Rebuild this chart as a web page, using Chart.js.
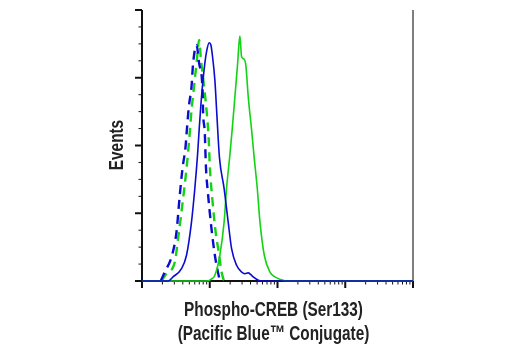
<!DOCTYPE html>
<html>
<head>
<meta charset="utf-8">
<script src="https://cdn.jsdelivr.net/npm/chart.js@4"></script>
<style>
  html, body { margin: 0; padding: 0; background: #fff; }
  #wrap { width: 520px; height: 350px; position: relative; }
</style>
</head>
<body>
<div id="wrap"><canvas id="histogram"></canvas></div>
<script>
// fluorescence intensity (log axis, 1 - 10^4) and event counts per histogram
const blueSolidX = [1, 2.42, 2.87, 3.83, 4.54, 5.38, 6.02, 6.60, 6.97, 7.56, 8.46, 9.06, 9.80, 10.4, 11.0, 11.9, 12.7, 13.9, 16.3, 18.7, 21.0, 24.9, 29.5, 33.0, 37.0, 40.5, 43.9, 52.0, 59.0, 10000]
const blueSolidY = [0, 0, 2.4, 7.3, 15.2, 34.9, 54.6, 74.3, 89.1, 108.7, 128.5, 136.3, 140.7, 139.3, 132.4, 118.6, 99.1, 73.0, 54.6, 34.9, 19.1, 9.3, 5.3, 4.3, 4.8, 3.7, 2.4, 0.4, 0, 0]

const greenSolidX = [1, 8.97, 10.4, 11.9, 14.1, 16.3, 17.7, 19.8, 21.4, 23.5, 25.8, 26.9, 27.9, 29.5, 32.3, 34.2, 37.0, 41.5, 45.2, 50.3, 55.1, 63.8, 77.4, 91.8, 115, 134, 10000]
const greenSolidY = [0, 0, 1.0, 3.4, 15.2, 34.9, 54.6, 74.3, 89.1, 108.7, 128.5, 139.3, 144.6, 132.4, 130.9, 126.9, 108.7, 89.1, 73.1, 54.6, 34.9, 15.2, 5.3, 2.4, 0.7, 0, 0]

const blueDashX = [1.89, 2.17, 2.78, 3.23, 3.61, 3.96, 4.39, 4.63, 4.91, 5.38, 5.68, 6.38, 6.97, 7.83, 7.99, 8.46, 8.76, 9.47, 10.6, 11.9, 12.9, 14.1]
const blueDashY = [0, 5.3, 15.2, 29.0, 50.6, 66.4, 79.2, 91.0, 102.8, 114.7, 128.5, 139.3, 128.5, 112.7, 98.9, 87.1, 68.4, 50.6, 31.0, 15.2, 7.3, 0]

const greenDashX = [1.94, 2.30, 3.05, 3.41, 4.04, 4.54, 4.79, 5.08, 5.38, 5.82, 6.45, 6.97, 7.39, 8.04, 8.67, 9.28, 9.70, 10.0, 10.9, 12.2, 13.8, 14.6, 15.8, 16.7]
const greenDashY = [0, 4.4, 11.2, 25.1, 48.7, 66.4, 76.2, 88.1, 100.9, 113.7, 130.4, 142.3, 131.4, 118.6, 106.8, 94.0, 82.1, 68.4, 48.7, 29.0, 15.2, 7.5, 1.6, 0]

const yMajorTicks = [0, 40, 80, 120, 160]
const xDecades = [1, 10, 100, 1000, 10000]

const BLUE = '#0c0cd0'
const GREEN = '#14d214'
const TITLE_FONT = 'bold 21px "Liberation Sans", Arial, sans-serif'
const SQUEEZE = 0.73

function points(xs, ys) {
    return xs.map((x, i) => ({ x: x, y: ys[i] }))
}

// condensed bold label, baseline at (x, y) before any rotation
function narrowText(ctx, text, x, y, angle) {
    ctx.save()
    ctx.translate(x, y)
    ctx.rotate(angle)
    ctx.scale(SQUEEZE, 1)
    ctx.fillText(text, 0, 0)
    ctx.restore()
}

// axes, tick marks and titles are drawn by hand so major/minor ticks can differ
const axesPlugin = {
    id: 'flowAxes',
    beforeDatasetsDraw(chart) {
        const ctx = chart.ctx
        const area = chart.chartArea
        const xs = chart.scales.x
        const ys = chart.scales.y
        ctx.save()

        // right frame
        ctx.strokeStyle = '#555'
        ctx.lineWidth = 1.5
        ctx.beginPath()
        ctx.moveTo(area.right, area.top)
        ctx.lineTo(area.right, area.bottom)
        ctx.stroke()

        ctx.strokeStyle = '#111'
        ctx.lineWidth = 2
        ctx.beginPath()
        ctx.moveTo(area.left, area.top)
        ctx.lineTo(area.left, area.bottom)
        ctx.lineTo(area.right, area.bottom)
        ctx.stroke()

        // y ticks
        for (let v = 0; v <= 160; v += 10) {
            const y = ys.getPixelForValue(v)
            const major = yMajorTicks.includes(v)
            ctx.lineWidth = major ? 2 : 1
            ctx.beginPath()
            ctx.moveTo(area.left, y)
            ctx.lineTo(area.left - (major ? 7 : 3.5), y)
            ctx.stroke()
        }

        // x ticks
        xDecades.forEach((d, k) => {
            const steps = k < xDecades.length - 1 ? 9 : 1
            for (let m = 1; m <= steps; m++) {
                const x = xs.getPixelForValue(d * m)
                const major = m === 1
                ctx.lineWidth = major ? 2 : 1
                ctx.beginPath()
                ctx.moveTo(x, area.bottom)
                ctx.lineTo(x, area.bottom + (major ? 7 : 3.5))
                ctx.stroke()
            }
        })

        // titles
        ctx.fillStyle = '#222'
        ctx.font = TITLE_FONT
        ctx.textAlign = 'center'
        ctx.textBaseline = 'alphabetic'
        narrowText(ctx, 'Phospho-CREB (Ser133)', 273.5, 316, 0)
        narrowText(ctx, '(Pacific Blue™ Conjugate)', 273.5, 339.5, 0)
        narrowText(ctx, 'Events', 122.5, 145, -Math.PI / 2)
        ctx.restore()
    }
}

new Chart(document.getElementById('histogram'), {
    type: 'line',
    data: {
        datasets: [{
            data: points(blueSolidX, blueSolidY),
            borderColor: BLUE,
            borderWidth: 1.6
        }, {
            data: points(greenSolidX, greenSolidY),
            borderColor: GREEN,
            borderWidth: 1.6
        }, {
            data: points(blueDashX, blueDashY),
            borderColor: BLUE,
            borderWidth: 2.4,
            borderDash: [9, 6]
        }, {
            data: points(greenDashX, greenDashY),
            borderColor: GREEN,
            borderWidth: 2.4,
            borderDash: [9, 6]
        }]
    },
    options: {
        responsive: true,
        maintainAspectRatio: false,
        animation: false,
        layout: {
            padding: { left: 142, right: 107, top: 10, bottom: 69 }
        },
        elements: {
            point: { radius: 0 },
            line: { cubicInterpolationMode: 'monotone', fill: false }
        },
        datasets: {
            line: { clip: false }
        },
        plugins: {
            legend: { display: false },
            tooltip: { enabled: false }
        },
        scales: {
            x: { type: 'logarithmic', min: 1, max: 10000, display: false },
            y: { type: 'linear', min: 0, max: 160, display: false }
        }
    },
    plugins: [axesPlugin]
})
</script>
</body>
</html>
